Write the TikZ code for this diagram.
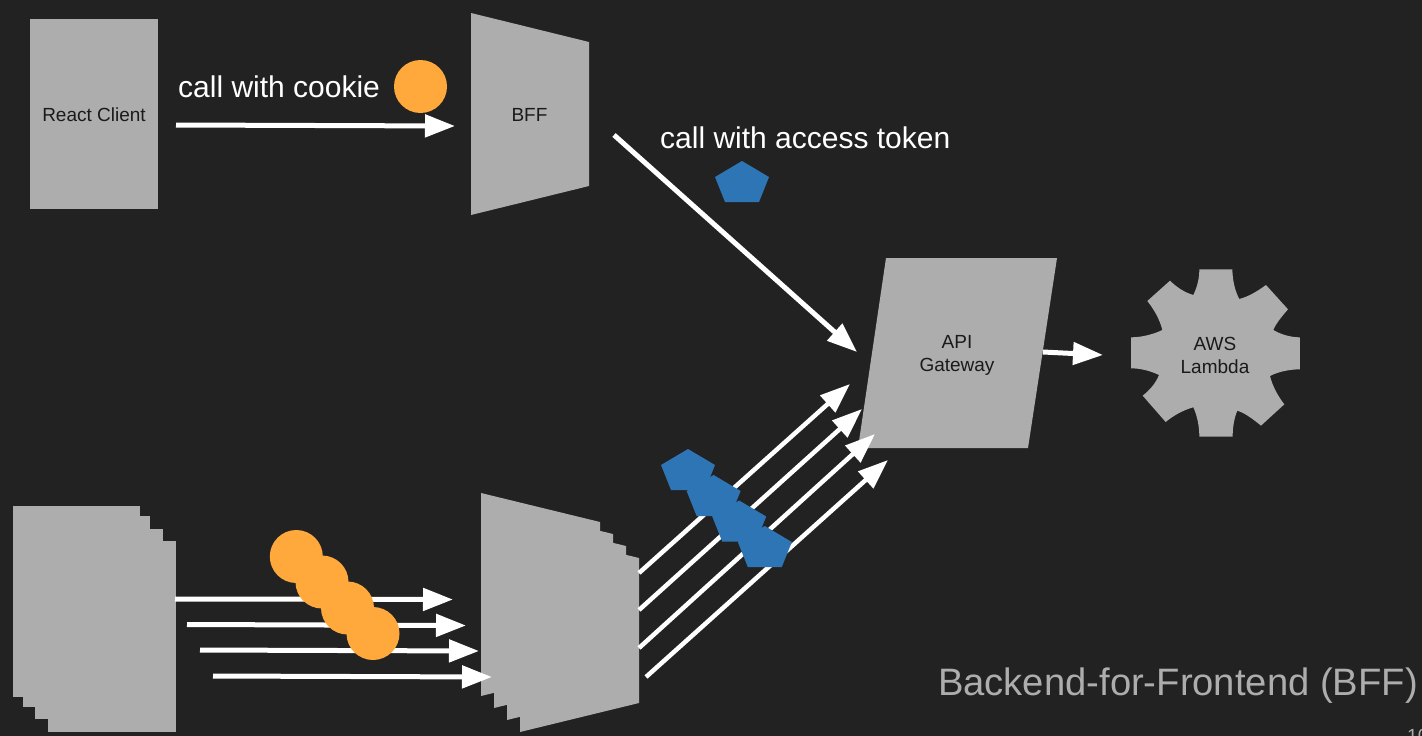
\documentclass[tikz,border=0pt]{standalone}
\usepackage{fontspec}
\setmainfont{Liberation Sans}
\usetikzlibrary{arrows.meta}
\definecolor{slide}{HTML}{222222}
\definecolor{box}{HTML}{ADADAD}
\definecolor{cookie}{HTML}{FFA93C}
\definecolor{token}{HTML}{2E75B6}
\definecolor{ink}{HTML}{1A1A1A}
\tikzset{
  shapefill/.style={fill=box,draw=none},
  flow/.style={draw=white,line width=5pt,-{Triangle[length=30pt,width=22pt]}},
  thinflow/.style={flow,line width=4.5pt},
  cookiedot/.style={circle,fill=cookie,draw=none,minimum size=53pt,inner sep=0pt},
  tokenshape/.style={fill=token,draw=none},
  boxlabel/.style={text=ink,anchor=base,inner sep=0pt,font=\fontsize{19}{23}\selectfont},
  calllabel/.style={text=white,anchor=base west,inner sep=0pt,font=\fontsize{30}{36}\selectfont},
}
% Pentagon token whose top vertex sits at the given point
\newcommand{\tokenat}[2]{\fill[tokenshape] (#1-27,#2+16) -- (#1,#2) -- (#1+27,#2+16) -- (#1+17,#2+41) -- (#1-17,#2+41) -- cycle;}
% One page of the stacked backend: top-left corner at the given point
\newcommand{\bffpage}[2]{\fill[shapefill] (#1,#2) -- (#1+119,#2+29) -- (#1+119,#2+174) -- (#1,#2+203) -- cycle;}
\begin{document}
\begin{tikzpicture}[x=1pt,y=-1pt]
\useasboundingbox (0,0) rectangle (1422,736);
\clip (0,0) rectangle (1422,736);
\fill[slide] (0,0) rectangle (1422,736);

% Top row: client and single BFF
\fill[shapefill] (30,19) rectangle (158,209);
\fill[shapefill] (471,13) -- (589,42) -- (589,186) -- (471,215) -- cycle;

% Stacked clients
\fill[shapefill] (13,506) rectangle (140,697);
\fill[shapefill] (23,516) rectangle (150,707);
\fill[shapefill] (35,529) rectangle (163,719);
\fill[shapefill] (48,541) rectangle (176,732);

% Stacked BFF instances
\bffpage{481}{493}
\bffpage{494}{505}
\bffpage{507}{517}
\bffpage{520}{529}

% API gateway
\fill[shapefill] (886,258) -- (1057,258) -- (1028,448) -- (858,448) -- cycle;

% Lambda cog, outlined clockwise from the top tooth
\begin{scope}[shift={(1100,250)},x=0.3333pt,y=-0.3333pt]
\fill[shapefill] (298,58) -- (397,58)
  .. controls (398,95) and (406,125) .. (418,147)
  .. controls (445,140) and (472,124) .. (498,105)
  -- (564,178)
  .. controls (545,200) and (527,222) .. (520,240)
  .. controls (545,255) and (575,262) .. (600,262)
  -- (600,358)
  .. controls (570,358) and (535,365) .. (510,378)
  .. controls (518,410) and (535,440) .. (553,463)
  -- (483,527)
  .. controls (462,510) and (437,490) .. (412,482)
  .. controls (402,505) and (398,535) .. (398,560)
  -- (298,560)
  .. controls (298,530) and (292,498) .. (280,472)
  .. controls (250,480) and (220,497) .. (197,516)
  -- (128,437)
  .. controls (150,420) and (168,398) .. (177,375)
  .. controls (150,362) and (120,355) .. (93,355)
  -- (93,262)
  .. controls (125,262) and (160,253) .. (187,240)
  .. controls (180,210) and (162,178) .. (142,153)
  -- (210,92)
  .. controls (230,112) and (255,128) .. (280,135)
  .. controls (292,110) and (298,85) .. (298,58)
  -- cycle;
\end{scope}

% Connector end points
\coordinate (clientOut) at (176,125);
\coordinate (bffIn) at (455,126);
\coordinate (bffOut) at (614,135);
\coordinate (gwIn) at (857,352);
\coordinate (gwOut) at (1043,352);
\coordinate (lambdaIn) at (1103,355);
\coordinate (cA) at (175,599);   \coordinate (fA) at (453,599.5);
\coordinate (cB) at (187,624.5); \coordinate (fB) at (466,625.5);
\coordinate (cC) at (200,650);   \coordinate (fC) at (479,651);
\coordinate (cD) at (213,676);   \coordinate (fD) at (492,677);
\coordinate (sA) at (639,573);   \coordinate (gA) at (850,384);
\coordinate (sB) at (639,610);   \coordinate (gB) at (862,409);
\coordinate (sC) at (639,648);   \coordinate (gC) at (875,434);
\coordinate (sD) at (646,677);   \coordinate (gD) at (888,460);

% Connectors
\draw[flow] (clientOut) -- (bffIn);
\draw[flow] (bffOut) -- (gwIn);
\draw[flow] (gwOut) -- (lambdaIn);
\draw[flow] (cA) -- (fA);
\draw[flow] (cB) -- (fB);
\draw[flow] (cC) -- (fC);
\draw[flow] (cD) -- (fD);
\draw[thinflow] (sA) -- (gA);
\draw[thinflow] (sB) -- (gB);
\draw[thinflow] (sC) -- (gC);
\draw[thinflow] (sD) -- (gD);

% Cookies
\node[cookiedot] (cookieTop) at (420.5,86.5) {};
\node[cookiedot] (cookieA) at (296.3,556.5) {};
\node[cookiedot] (cookieB) at (322,582) {};
\node[cookiedot] (cookieC) at (347.5,608) {};
\node[cookiedot] (cookieD) at (373,633.5) {};

% Access tokens
\tokenat{742}{161}
\tokenat{688}{449}
\tokenat{713.6}{475}
\tokenat{739.2}{500.5}
\tokenat{764.8}{526}

% Labels
\node[boxlabel] (clientLabel) at (94,121) {React Client};
\node[boxlabel] (bffLabel) at (529.5,121) {BFF};
\node[boxlabel] (apiLabel) at (957,348.5) {API};
\node[boxlabel] (gatewayLabel) at (957,371.5) {Gateway};
\node[boxlabel] (awsLabel) at (1215,350.5) {AWS};
\node[boxlabel] (lambdaLabel) at (1215,373) {Lambda};
\node[calllabel] (cookieCall) at (178,97) {call with cookie};
\node[calllabel] (tokenCall) at (660,148) {call with access token};
\node[text=box,anchor=base east,inner sep=0pt,font=\fontsize{38.2}{44}\selectfont] (titleLabel) at (1418,695) {Backend-for-Frontend (BFF)};
\node[text=box,anchor=base west,inner sep=0pt,font=\fontsize{19}{23}\selectfont] (pageNo) at (1407,742) {10};
\end{tikzpicture}
\end{document}
